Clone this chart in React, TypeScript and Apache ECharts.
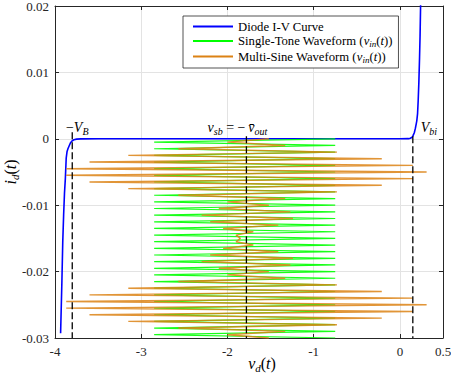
import React, { useEffect, useRef } from 'react';
import * as echarts from 'echarts';

// Diode I-V curve (voltage, current)
const diodeV = [-3.935, -3.93, -3.92, -3.91, -3.9, -3.89, -3.88, -3.87, -3.86, -3.85, -3.84, -3.83, -3.82, -3.8, -3.78, -3.75, -3.7, -3.5, -2, 0, 0.1, 0.12, 0.138, 0.15, 0.16, 0.168, 0.18, 0.19, 0.196, 0.205, 0.212, 0.22, 0.228, 0.234, 0.24, 0.245];
const diodeI = [-0.0293, -0.0293, -0.0215, -0.0155, -0.0115, -0.0082, -0.006, -0.0029, -0.0019, -0.0015, -0.0012, -0.0009, -0.0006, -0.0003, -0.00015, -0.00005, -0.00001, 0, 0, 0, 0.00002, 0.00008, 0.0002, 0.0004, 0.0007, 0.00095, 0.0016, 0.0023, 0.0027, 0.0038, 0.0057, 0.0085, 0.0122, 0.0155, 0.02, 0.025];

// Waveform time axis (plotted on the current axis) and extremes of the waveforms
const waveTime = [0, -0.0005, -0.001, -0.0015, -0.002, -0.0025, -0.003, -0.0035, -0.004, -0.0045, -0.005, -0.0055, -0.006, -0.0065, -0.007, -0.0075, -0.008, -0.0085, -0.009, -0.0095, -0.01, -0.0105, -0.011, -0.0115, -0.012, -0.0125, -0.013, -0.0135, -0.014, -0.0145, -0.015, -0.0155, -0.016, -0.0165, -0.017, -0.0175, -0.018, -0.0185, -0.019, -0.0195, -0.02, -0.0205, -0.021, -0.0215, -0.022, -0.0225, -0.023, -0.0235, -0.024, -0.0245, -0.025, -0.0255, -0.026, -0.0265, -0.027, -0.0275, -0.028, -0.0285, -0.029, -0.0295, -0.03];
const singleToneV = [-0.75, -2.85, -0.75, -2.85, -0.75, -2.85, -0.75, -2.85, -0.75, -2.85, -0.75, -2.85, -0.75, -2.85, -0.75, -2.85, -0.75, -2.85, -0.75, -2.85, -0.75, -2.85, -0.75, -2.85, -0.75, -2.85, -0.75, -2.85, -0.75, -2.85, -0.75, -2.85, -0.75, -2.85, -0.75, -2.85, -0.75, -2.85, -0.75, -2.85, -0.75, -2.85, -0.75, -2.85, -0.75, -2.85, -0.75, -2.85, -0.75, -2.85, -0.75, -2.85, -0.75, -2.85, -0.75, -2.85, -0.75, -2.85, -0.75, -2.85, -0.75];
const multiSineV = [-1.52, -2.0, -1.33, -2.57, -0.73, -3.15, -0.21, -3.6, 0.15, -3.87, 0.31, -3.87, 0.15, -3.6, -0.21, -3.15, -0.73, -2.57, -1.33, -2.0, -1.52, -2.1, -1.27, -2.3, -1.24, -2.2, -1.41, -2.05, -1.7, -1.9, -1.85, -1.9, -1.7, -2.05, -1.41, -2.2, -1.24, -2.3, -1.27, -2.1, -1.52, -2.0, -1.33, -2.57, -0.73, -3.15, -0.21, -3.6, 0.15, -3.87, 0.31, -3.87, 0.15, -3.6, -0.21, -3.15, -0.73, -2.57, -1.33, -2.0, -1.52];

// Reference voltages (dashed lines)
const markerV = [-3.8, -1.78, 0.15];
const markerTop = [0.001, 0.0004, 0.0004];
const markerLabels = ['{r|−}{i|V}{s|B}', '{i|v}{s|sb}{r| = −\u2009}{i|v\u0304}{s|out}', '{i|V}{s|bi}'];
const markerLabelShift = [5, -9, 16];

const seriesNames = ['Diode I-V Curve', 'Single-Tone Waveform', 'Multi-Sine Waveform'];

const serif = '"Liberation Serif", "DejaVu Serif", serif';
const axisColor = '#262626';
const gridColor = '#e3e3e3';

const mathRich = (size: number, lh?: number) => ({
  r: { fontFamily: serif, fontSize: size, color: '#000', lineHeight: lh ?? size + 3 },
  i: { fontFamily: serif, fontStyle: 'italic', fontSize: size, color: '#000', lineHeight: lh ?? size + 3 },
  s: { fontFamily: serif, fontStyle: 'italic', fontSize: Math.round(size * 0.7), color: '#000', lineHeight: Math.round(size * 0.7), verticalAlign: 'bottom' },
});

export default function App() {
  const ref = useRef<HTMLDivElement>(null);
  useEffect(() => {
    if (!ref.current) return;
    const chart = echarts.init(ref.current, undefined, { renderer: 'svg' });
    const zip = (xs: number[], ys: number[]) => xs.map((x, i) => [x, ys[i]]);
    const axisBase = {
      type: 'value',
      axisLine: { show: true, onZero: false, lineStyle: { color: axisColor, width: 1 } },
      axisTick: { show: true, inside: true, length: 4, lineStyle: { color: axisColor } },
    };
    const markerSeries = markerV.map((v, i) => ({
      type: 'line',
      name: 'marker' + i,
      data: [[v, markerTop[i]], [v, -0.03]],
      symbol: 'none',
      silent: true,
      z: 5,
      lineStyle: { color: '#000', width: 1.3, type: [7, 3] },
      markPoint: {
        symbol: 'circle',
        symbolSize: 1,
        silent: true,
        itemStyle: { color: 'rgba(0,0,0,0)' },
        data: [{
          coord: [v, 0],
          label: {
            show: true,
            position: 'top',
            distance: 2,
            offset: [markerLabelShift[i], 0],
            formatter: markerLabels[i],
            rich: mathRich(14),
          },
        }],
      },
    }));
    const option: any = {
      animation: false,
      backgroundColor: '#fff',
      grid: { left: 55, right: 8, top: 6, bottom: 40, outerBoundsMode: 'none', containLabel: false },
      legend: {
        data: seriesNames,
        orient: 'vertical',
        left: 183,
        top: 16,
        icon: 'rect',
        itemWidth: 40,
        itemHeight: 2,
        itemGap: 1.5,
        padding: [4, 6, 4, 10],
        backgroundColor: '#fff',
        borderColor: axisColor,
        borderWidth: 0.8,
        borderRadius: 0,
        selectedMode: false,
        formatter: (name: string) =>
          name === seriesNames[0] ? '{r|' + name + '}' : '{r|' + name + ' (}{i|v}{s|in}{r|(}{i|t}{r|))}',
        textStyle: { rich: mathRich(12.7, 15) },
      },
      xAxis: [
        {
          ...axisBase,
          min: -4, max: 0.5, interval: 1,
          axisLabel: { margin: 7, color: axisColor, fontFamily: serif, fontSize: 13, formatter: (v: number) => String(Math.round(v * 10) / 10) },
          splitLine: { show: true, lineStyle: { color: gridColor, width: 1 } },
          name: '{i|v}{s|d}{r|(}{i|t}{r|)}',
          nameLocation: 'middle',
          nameGap: 16,
          nameMoveOverlap: false,
          nameTextStyle: { rich: mathRich(16), padding: [0, 0, 0, 26] },
        },
        { ...axisBase, position: 'top', min: -4, max: 0.5, interval: 1, axisLabel: { show: false }, splitLine: { show: false } },
      ],
      yAxis: [
        {
          ...axisBase,
          min: -0.03, max: 0.02, interval: 0.01,
          axisLabel: { margin: 6, color: axisColor, fontFamily: serif, fontSize: 13, formatter: (v: number) => { const r = Math.round(v * 100) / 100; return r === 0 ? '0' : String(r); } },
          splitLine: { show: true, lineStyle: { color: gridColor, width: 1 } },
          name: '{i|i}{s|d}{r|(}{i|t}{r|)}',
          nameLocation: 'middle',
          nameGap: 35,
          nameRotate: 90,
          nameMoveOverlap: false,
          nameTextStyle: { rich: mathRich(16) },
        },
        { ...axisBase, position: 'right', min: -0.03, max: 0.02, interval: 0.01, axisLabel: { show: false }, splitLine: { show: false } },
      ],
      series: [
        {
          type: 'line', name: seriesNames[0], data: zip(diodeV, diodeI), symbol: 'none', z: 2,
          itemStyle: { color: '#0000ff' }, lineStyle: { color: '#0000ff', width: 1.6 },
        },
        {
          type: 'line', name: seriesNames[1], data: zip(singleToneV, waveTime), symbol: 'none', z: 3,
          itemStyle: { color: '#00ff00' }, lineStyle: { color: '#00ff00', width: 1.2, opacity: 0.9 },
        },
        {
          type: 'line', name: seriesNames[2], data: zip(multiSineV, waveTime), symbol: 'none', z: 4,
          itemStyle: { color: '#dc8214' }, lineStyle: { color: '#dc8214', width: 1.4, opacity: 0.85 },
        },
        ...markerSeries,
      ],
    };
    chart.setOption(option);
    return () => chart.dispose();
  }, []);
  return <div ref={ref} style={{ position: 'absolute', left: 0, top: 0, width: 451, height: 378 }} />;
}
